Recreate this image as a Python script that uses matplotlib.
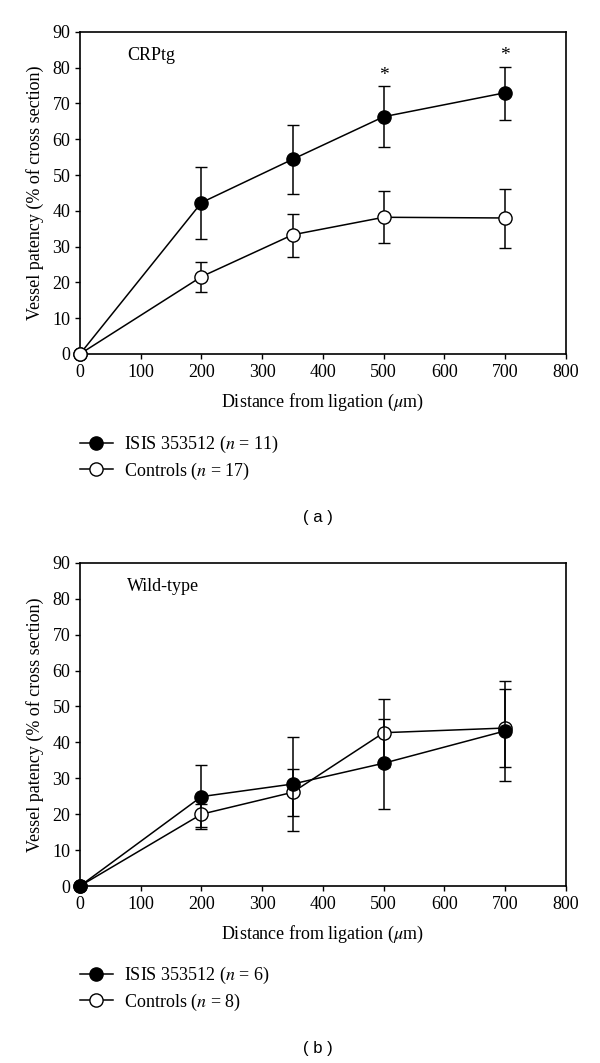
import matplotlib
matplotlib.use('Agg')
import matplotlib.pyplot as plt
from matplotlib.lines import Line2D
import numpy as np

plt.rcParams['font.family'] = 'serif'
plt.rcParams['font.serif'] = ['Liberation Serif', 'DejaVu Serif']
plt.rcParams['mathtext.fontset'] = 'stix'
plt.rcParams['font.size'] = 13

# distance from ligation (um)
dist = [0, 200, 350, 500, 700]

# panel (a) CRPtg
a_isis = [0, 42.3, 54.4, 66.3, 73.0]
a_isis_lo = [0, 32.2, 44.7, 57.7, 65.5]
a_isis_hi = [0, 52.2, 63.9, 74.9, 80.3]
a_ctrl = [0, 21.6, 33.3, 38.2, 38.0]
a_ctrl_lo = [0, 17.2, 27.0, 31.0, 29.7]
a_ctrl_hi = [0, 25.6, 39.2, 45.5, 46.2]
a_star = [500, 700]

# panel (b) wild-type
b_isis = [0, 24.9, 28.4, 34.2, 43.2]
b_isis_lo = [0, 15.8, 15.3, 21.5, 29.3]
b_isis_hi = [0, 33.6, 41.6, 46.6, 57.1]
b_ctrl = [0, 20.0, 26.1, 42.7, 44.0]
b_ctrl_lo = [0, 16.5, 19.6, 33.2, 33.2]
b_ctrl_hi = [0, 22.8, 32.7, 52.2, 54.8]

fig = plt.figure(figsize=(6, 10.63), dpi=100)
ax1 = fig.add_axes([0.1333, 0.667, 0.81, 0.303])
ax2 = fig.add_axes([0.1333, 0.1665, 0.81, 0.304])


def series(ax, y, lo, hi, fill, z):
    y = np.array(y)
    err = [y - np.array(lo), np.array(hi) - y]
    ax.errorbar(dist, y, yerr=err, color='black', lw=1.1, marker='o',
                markersize=9.5, markerfacecolor=fill, markeredgecolor='black',
                markeredgewidth=1.0, capsize=4.5, capthick=1.1,
                elinewidth=1.1, zorder=z, clip_on=False)


def style_ax(ax, label):
    ax.set_xlim(0, 800)
    ax.set_ylim(0, 90)
    ax.set_xticks(range(0, 801, 100))
    ax.set_yticks(range(0, 91, 10))
    ax.tick_params(direction='out', length=3.5, width=1.0, top=False, right=False,
                   labelsize=13, pad=3.5)
    for s in ax.spines.values():
        s.set_linewidth(1.2)
    ax.set_xlabel('Distance from ligation ($\\mu$m)', fontsize=13, labelpad=8)
    ax.set_ylabel('Vessel patency (% of cross section)', fontsize=13, labelpad=6)
    ax.text(77, 83.3, label, fontsize=13, va='center', ha='left')


series(ax1, a_isis, a_isis_lo, a_isis_hi, 'black', 3)
series(ax1, a_ctrl, a_ctrl_lo, a_ctrl_hi, 'white', 4)
for xs in a_star:
    i = dist.index(xs)
    ax1.text(xs, a_isis_hi[i] + 0.6, '*', ha='center', va='bottom', fontsize=14)
style_ax(ax1, 'CRPtg')

series(ax2, b_ctrl, b_ctrl_lo, b_ctrl_hi, 'white', 3)
series(ax2, b_isis, b_isis_lo, b_isis_hi, 'black', 4)
style_ax(ax2, 'Wild-type')


def legend(n1, n2, ytop):
    h1 = Line2D([], [], color='black', lw=1.1, marker='o', markersize=9.5,
                markerfacecolor='black', markeredgecolor='black')
    h2 = Line2D([], [], color='black', lw=1.1, marker='o', markersize=9.5,
                markerfacecolor='white', markeredgecolor='black')
    fig.legend([h1, h2], ['ISIS 353512 ($n$ = %d)' % n1, 'Controls ($n$ = %d)' % n2],
               loc='upper left', bbox_to_anchor=(80 / 600, ytop), frameon=False,
               handlelength=1.8, handletextpad=0.65, labelspacing=0.3,
               fontsize=13, borderaxespad=0, borderpad=0)


legend(11, 17, 1 - 434 / 1063)
legend(6, 8, 1 - 965 / 1063)

fig.text(318 / 600, 1 - 518 / 1063, '( a )', ha='center', va='center',
         fontsize=12, family='Liberation Sans')
fig.text(318 / 600, 1 - 1048 / 1063, '( b )', ha='center', va='center',
         fontsize=12, family='Liberation Sans')

fig.savefig('out.png', dpi=100)
